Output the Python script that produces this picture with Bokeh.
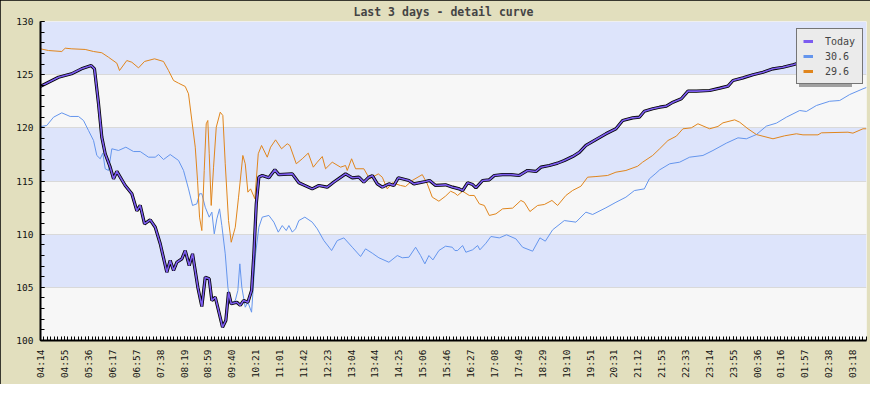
import numpy as np
from bokeh.plotting import figure
from bokeh.models import FixedTicker, Legend, LegendItem, Range1d
from bokeh.embed import file_html
from bokeh.resources import INLINE

# ---------------- data ----------------
x_labels = ["04:14", "04:55", "05:36", "06:17", "06:57", "07:38", "08:19", "08:59",
            "09:40", "10:21", "11:01", "11:42", "12:23", "13:04", "13:44", "14:25",
            "15:06", "15:46", "16:27", "17:08", "17:49", "18:29", "19:10", "19:51",
            "20:31", "21:12", "21:53", "22:33", "23:14", "23:55", "00:36", "01:16",
            "01:57", "02:38", "03:18"]

# minutes after 04:14
today_t = [0, 30.7, 52.9, 69.9, 86.4, 92, 98.9, 104.5, 110.3, 118.8, 124.5, 130.1, 144.4,
           155.7, 164.2, 170, 177.3, 187, 195.6, 204.1, 215.3, 221.1, 226.8, 232.4, 240.9,
           246.7, 253.5, 259.2, 268.2, 275, 280.8, 287.6, 292.1, 297.9, 303.5, 310.3, 315.9,
           320.5, 325.1, 334.7, 340.5, 346.1, 353.5, 359.8, 363.7, 367.8, 372.2, 378, 389.3,
           399.5, 406.3, 429.2, 440.4, 463.2, 474.5, 488.8, 500.1, 520, 531.5, 542.7, 551.2,
           559.8, 565.6, 574.1, 582.6, 593.9, 602.4, 609.9, 628, 636.5, 656.4, 663.2, 673.5,
           690.5, 702.5, 713.9, 719.5, 728, 736.6, 742.2, 753.6, 765, 773.6, 787.7, 801.9,
           816.2, 830.3, 844.5, 853, 867.4, 881.5, 892.9, 907.1, 918.5, 929.7, 946.8, 963.8,
           980.9, 992.3, 1009.4, 1020.8, 1029.3, 1043.5, 1055.4, 1066.8, 1078.1, 1092.4,
           1103.7, 1118, 1140.6, 1157.7, 1171.9, 1180.4, 1197.4, 1214.5, 1231.5, 1248.6,
           1265.6, 1282.7, 1294.1, 1300.9, 1308.3, 1314.1]
today_v = [123.9, 124.76, 125.08, 125.55, 125.86, 125.55, 122.26, 119.12, 117.56, 116.3, 115.2,
           115.9, 114.58, 113.8, 112.2, 112.7, 110.97, 111.35, 110.65, 109.1, 106.42, 107.52,
           106.58, 107.36, 107.68, 108.46, 107.05, 108.15, 105.0, 103.2, 105.95, 105.8, 103.76,
           104.07, 102.82, 101.25, 101.88, 104.54, 103.45, 103.6, 103.3, 103.76, 103.6, 104.7,
           108.15, 112.85, 115.36, 115.52, 115.3, 116.05, 115.6, 115.67, 114.83, 114.26, 114.58,
           114.42, 114.9, 115.67, 115.3, 115.36, 114.9, 115.36, 115.5, 114.73, 114.42, 114.73,
           114.58, 115.3, 115.05, 114.73, 114.95, 115.05, 114.58, 114.64, 114.42, 114.26, 114.1,
           114.83, 114.67, 114.36, 115.05, 115.11, 115.52, 115.6, 115.6, 115.52, 115.99, 115.9,
           116.3, 116.46, 116.68, 116.93, 117.3, 117.7, 118.34, 118.9, 119.44, 119.91, 120.69,
           120.94, 121.0, 121.56, 121.79, 121.94, 122.04, 122.41, 122.73, 123.45, 123.45, 123.51,
           123.73, 123.92, 124.45, 124.7, 124.99, 125.23, 125.55, 125.7, 125.93, 126.12, 125.8,
           126.08, 126.33]

d306_t = [0, 10.7, 22.2, 36.3, 50.6, 64.8, 73.3, 81.8, 90.4, 96, 101.8, 106.2, 110.3, 115.9,
          121.6, 133, 145.5, 158.6, 170, 184.1, 195.6, 201.2, 209.7, 221.1, 235.3, 243.8, 252.3,
          259.2, 266.5, 271.1, 275, 280.8, 287.6, 292.1, 296.2, 300.6, 305.2, 309.1, 314.9,
          319.4, 323.4, 332, 336.4, 339.8, 343.2, 349, 353.5, 359.8, 366.6, 372.2, 378, 389.3,
          397.8, 405.3, 412.1, 418.9, 423.4, 429.2, 434.8, 440.4, 450.6, 463.2, 471.8, 483,
          496.2, 505.9, 517.1, 531.5, 545.6, 554.1, 565.6, 576.8, 593.9, 608.2, 616.7, 628,
          639.4, 647.9, 655.2, 662.1, 668.9, 679.1, 690.5, 701.9, 706.4, 711, 719.5, 725.1,
          736.6, 745.1, 749, 759.3, 767.8, 782.1, 794.5, 810.4, 821.8, 838.9, 851.3, 860.5,
          873, 892.9, 912.7, 929.7, 941.2, 963.8, 980.9, 997.9, 1012.3, 1029.3, 1037.8, 1049.1,
          1055.4, 1072.6, 1089.5, 1106.5, 1129.2, 1146.3, 1169.1, 1188.9, 1203.2, 1220.3,
          1237.3, 1254.4, 1271.4, 1294.1, 1305.5, 1322.6, 1345.2, 1362.3, 1379.3, 1402, 1408]
d306_v = [120.12, 120.22, 121.0, 121.41, 121.07, 121.07, 120.69, 119.75, 118.81, 117.4, 117.09,
          117.62, 116.15, 115.99, 118.03, 117.87, 118.18, 117.77, 117.77, 117.24, 117.24, 117.49,
          117.02, 117.49, 116.93, 115.99, 114.26, 112.7, 112.85, 113.8, 113.8, 112.54, 111.6,
          112.07, 110.03, 111.44, 112.38, 110.81, 108.15, 105.01, 103.45, 103.76, 104.7, 107.21,
          105.0, 103.13, 103.6, 102.66, 108.15, 110.65, 111.6, 111.76, 111.13, 110.19, 110.81,
          110.34, 110.81, 110.19, 110.5, 111.28, 111.6, 111.13, 110.5, 109.4, 108.46, 109.4,
          109.65, 108.77, 107.9, 108.62, 108.21, 107.78, 107.36, 107.99, 107.78, 107.83, 108.77,
          107.99, 107.21, 107.99, 107.58, 108.46, 108.87, 108.77, 108.46, 108.46, 108.93, 108.3,
          108.53, 108.93, 108.53, 109.15, 109.78, 109.65, 109.94, 109.56, 108.77, 108.4, 109.65,
          109.34, 110.41, 111.28, 111.13, 112.07, 111.85, 112.48, 113.0, 113.48, 114.1, 114.26,
          115.2, 115.73, 116.05, 116.62, 116.77, 117.24, 117.4, 117.87, 118.56, 119.06, 118.97,
          119.37, 120.16, 120.44, 121.0, 121.63, 121.54, 122.1, 122.5, 122.57, 123.13, 123.67,
          123.8]

d296_t = [0, 13.6, 36.3, 42.1, 53.4, 76.2, 90.4, 104.5, 115.9, 130.1, 134.7, 147.1, 155.7,
          167.1, 177.3, 194.4, 209.7, 218.2, 226.8, 235.3, 246.7, 252.3, 258, 263.8, 267.7,
          271.1, 275, 279.1, 282.5, 285.2, 287.6, 291, 295, 299.6, 306.4, 310.8, 314.9, 320.5,
          325.1, 332, 337.6, 344.9, 349, 353.5, 358.1, 365.4, 371.2, 376.8, 386.5, 392.2, 400.7,
          410.9, 420.6, 425, 436, 446.2, 456.4, 465, 471.8, 480.3, 485.9, 497.3, 511.5, 520,
          522.9, 530.3, 537.1, 551.2, 561, 575.8, 582.6, 591.1, 599.6, 613.8, 622.3, 633.7,
          650.8, 659.3, 667.8, 679.1, 690.5, 699.1, 706.4, 711, 719.5, 730.9, 739.4, 748, 756.5,
          765, 776.3, 787.7, 804.8, 818.9, 824.7, 834.3, 847.4, 858.8, 871.8, 881.5, 895.6,
          907.1, 921.2, 932.6, 946.8, 966.7, 980.9, 997.9, 1017.9, 1026.4, 1043.5, 1055.4,
          1069.6, 1083.9, 1095.1, 1109.4, 1120.7, 1140.6, 1154.8, 1163.3, 1183.3, 1191.8,
          1205.9, 1220.3, 1248.6, 1268.5, 1288.5, 1299.7, 1325.3, 1331.1, 1376.4, 1384.9, 1402,
          1408]
d296_v = [127.43, 127.27, 127.18, 127.49, 127.43, 127.37, 127.18, 127.06, 126.64, 126.08, 125.39,
          126.33, 126.17, 125.64, 126.24, 126.49, 126.24, 125.39, 124.45, 124.2, 123.89, 123.2,
          120.69, 118.18, 115.05, 111.6, 110.34, 115.99, 120.38, 120.69, 117.56, 112.7, 116.3,
          120.06, 121.47, 121.16, 116.62, 111.28, 109.24, 110.65, 113.48, 117.4, 116.62, 113.95,
          114.26, 113.33, 117.56, 118.34, 117.24, 118.18, 118.87, 118.03, 118.5, 118.34, 116.62,
          117.09, 117.62, 116.3, 116.77, 117.3, 116.15, 116.77, 116.3, 116.46, 115.99, 117.09,
          116.15, 116.15, 115.2, 115.67, 115.36, 114.26, 114.83, 114.58, 114.48, 115.05, 115.6,
          114.73, 113.48, 113.1, 113.58, 114.04, 113.85, 113.64, 114.04, 113.64, 113.64, 112.85,
          112.7, 111.76, 111.91, 112.38, 112.45, 113.17, 113.0, 112.13, 112.7, 112.79, 113.17,
          112.7, 113.64, 114.11, 114.51, 115.36, 115.42, 115.52, 115.83, 115.99, 116.39, 116.77,
          117.4, 118.03, 118.81, 119.22, 119.91, 120.0, 120.38, 119.91, 120.13, 120.47, 120.75,
          120.53, 119.91, 119.37, 118.97, 119.25, 119.44, 119.34, 119.34, 119.53, 119.59, 119.5,
          119.91, 119.91]

series_names = ["Today", "30.6", "29.6"]
y_ticks = [100, 105, 110, 115, 120, 125, 130]

# ---------------- styling ----------------
BEIGE = "#E2DFBE"
GRAY_BAND = "#F7F7F7"
BLUE_BAND = "#DDE4FB"
PURPLE = "#7C5CF0"
BLUE = "#6495ED"
ORANGE = "#E0851C"
FONT = "DejaVu Sans Mono"


def to_min(s):
    h, m = map(int, s.split(":"))
    return (h * 60 + m - (4 * 60 + 14)) % 1440


label_pos = [to_min(s) for s in x_labels]
minor = []
for a, b in zip(label_pos[:-1], label_pos[1:]):
    minor += list(np.linspace(a, b, 8)[:-1])
step = (label_pos[-1] - label_pos[0]) / (7 * (len(label_pos) - 1))
v = label_pos[-1]
while v <= 1408:
    minor.append(v)
    v += step


def trim(t, y):
    n = min(len(t), len(y))
    return t[:n], y[:n]


p = figure(width=870, height=384, output_backend="svg", toolbar_location=None,
           x_range=Range1d(0, 1408), y_range=Range1d(100, 130),
           min_border_left=40, min_border_right=4, min_border_bottom=44, min_border_top=21,
           background_fill_color=GRAY_BAND, border_fill_color=BEIGE,
           title="Last 3 days - detail curve")
p.styles = {"outline": "1px solid black", "outline-offset": "-1px"}

p.title.align = "left"
p.title.text_font = FONT
p.title.text_font_size = "11.5px"
p.title.text_font_style = "bold"
p.title.standoff = 5
p.title.offset = 313
p.outline_line_color = None

p.xgrid.visible = False
p.ygrid.ticker = FixedTicker(ticks=y_ticks)
p.ygrid.grid_line_color = "#D9D9D9"
p.ygrid.grid_line_width = 1
p.ygrid.band_fill_color = BLUE_BAND
p.ygrid.band_fill_alpha = 1

for ax in (p.xaxis, p.yaxis):
    ax.axis_line_color = "black"
    ax.axis_line_width = 2
    ax.major_tick_line_color = "black"
    ax.minor_tick_line_color = "black"
    ax.major_tick_out = 0
    ax.minor_tick_out = 0
    ax.major_tick_in = 4
    ax.minor_tick_in = 4
    ax.major_label_text_font = FONT
    ax.major_label_text_font_size = "9.5px"
    ax.major_label_text_color = "#111111"

p.yaxis.ticker = FixedTicker(ticks=y_ticks, minor_ticks=list(range(100, 131)))
p.yaxis.major_label_standoff = 7
p.xaxis.ticker = FixedTicker(ticks=label_pos, minor_ticks=minor)
p.xaxis.major_label_overrides = {pos: lab for pos, lab in zip(label_pos, x_labels)}
p.xaxis.major_label_orientation = np.pi / 2
p.xaxis.major_label_standoff = 9

bt, bv = trim(d306_t, d306_v)
ot, ov = trim(d296_t, d296_v)
tt, tv = trim(today_t, today_v)
p.line(bt, bv, color=BLUE, line_width=1)
p.line(ot, ov, color=ORANGE, line_width=1)
p.line(tt, tv, color="black", line_width=3.2)
p.line(tt, tv, color=PURPLE, line_width=1.6)

# legend samples (single-point lines draw nothing on the plot)
lg = [p.line(t[:1], y[:1], color=c, line_width=3)
      for (t, y), c in zip([(tt, tv), (bt, bv), (ot, ov)], (PURPLE, BLUE, ORANGE))]


def make_legend(loc, shadow=False):
    names = [" "] * len(series_names) if shadow else series_names
    lgd = Legend(items=[LegendItem(label=n, renderers=[r]) for n, r in zip(names, lg)],
                 location=loc)
    lgd.background_fill_color = "#A0A0A0" if shadow else "#EBEBEB"
    lgd.background_fill_alpha = 1
    lgd.border_line_color = None if shadow else "black"
    lgd.border_line_width = 1
    lgd.label_text_font = FONT
    lgd.label_text_font_size = "10px"
    lgd.label_width = 31
    lgd.glyph_width = 10
    lgd.glyph_height = 12
    lgd.label_height = 12
    lgd.label_standoff = 12
    lgd.padding = 6
    lgd.spacing = 3
    lgd.margin = 0
    return lgd


p.add_layout(make_legend((759, 253), shadow=True))
p.add_layout(make_legend((756, 256)))

open("out.html", "w").write(file_html(p, INLINE))
